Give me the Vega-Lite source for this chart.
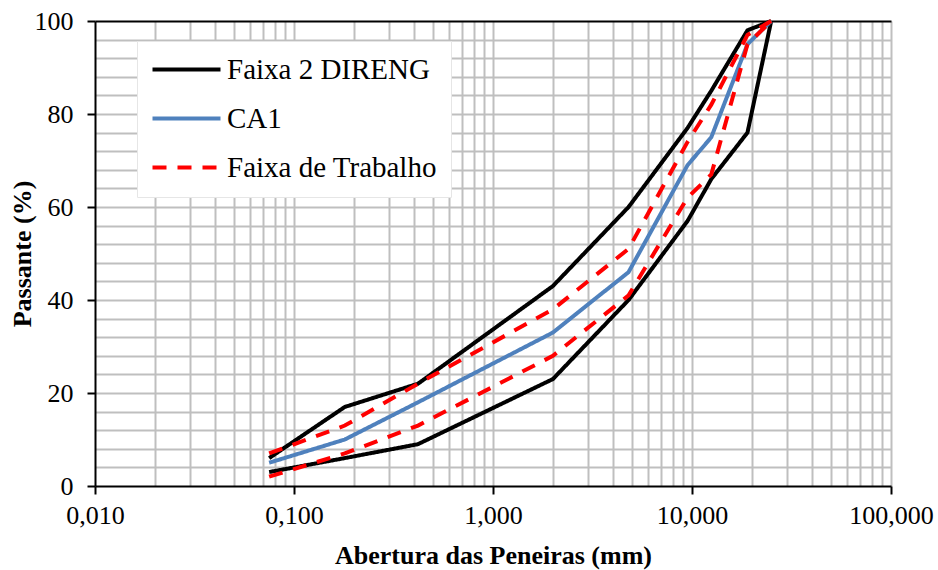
{
  "$schema": "https://vega.github.io/schema/vega-lite/v6.json",
  "width": 796,
  "height": 465,
  "autosize": {"type": "none"},
  "padding": {"left": 95, "top": 21, "right": 47, "bottom": 84},
  "background": "white",
  "config": {"font": "Liberation Serif", "view": {"stroke": null}},
  "data": {
    "values": [
      {"abertura": 0.075, "passante": 6, "serie": "Faixa 2 DIRENG", "linha": "DIRENG sup"},
      {"abertura": 0.18, "passante": 17, "serie": "Faixa 2 DIRENG", "linha": "DIRENG sup"},
      {"abertura": 0.42, "passante": 22, "serie": "Faixa 2 DIRENG", "linha": "DIRENG sup"},
      {"abertura": 2.0, "passante": 43, "serie": "Faixa 2 DIRENG", "linha": "DIRENG sup"},
      {"abertura": 4.8, "passante": 60, "serie": "Faixa 2 DIRENG", "linha": "DIRENG sup"},
      {"abertura": 9.5, "passante": 77, "serie": "Faixa 2 DIRENG", "linha": "DIRENG sup"},
      {"abertura": 12.5, "passante": 85, "serie": "Faixa 2 DIRENG", "linha": "DIRENG sup"},
      {"abertura": 19.0, "passante": 98, "serie": "Faixa 2 DIRENG", "linha": "DIRENG sup"},
      {"abertura": 25.0, "passante": 100, "serie": "Faixa 2 DIRENG", "linha": "DIRENG sup"},
      {"abertura": 0.075, "passante": 3, "serie": "Faixa 2 DIRENG", "linha": "DIRENG inf"},
      {"abertura": 0.18, "passante": 6, "serie": "Faixa 2 DIRENG", "linha": "DIRENG inf"},
      {"abertura": 0.42, "passante": 9, "serie": "Faixa 2 DIRENG", "linha": "DIRENG inf"},
      {"abertura": 2.0, "passante": 23, "serie": "Faixa 2 DIRENG", "linha": "DIRENG inf"},
      {"abertura": 4.8, "passante": 40, "serie": "Faixa 2 DIRENG", "linha": "DIRENG inf"},
      {"abertura": 9.5, "passante": 57, "serie": "Faixa 2 DIRENG", "linha": "DIRENG inf"},
      {"abertura": 12.5, "passante": 66, "serie": "Faixa 2 DIRENG", "linha": "DIRENG inf"},
      {"abertura": 19.0, "passante": 76, "serie": "Faixa 2 DIRENG", "linha": "DIRENG inf"},
      {"abertura": 25.0, "passante": 100, "serie": "Faixa 2 DIRENG", "linha": "DIRENG inf"},
      {"abertura": 0.075, "passante": 5, "serie": "CA1", "linha": "CA1"},
      {"abertura": 0.18, "passante": 10, "serie": "CA1", "linha": "CA1"},
      {"abertura": 0.42, "passante": 18, "serie": "CA1", "linha": "CA1"},
      {"abertura": 2.0, "passante": 33, "serie": "CA1", "linha": "CA1"},
      {"abertura": 4.8, "passante": 46, "serie": "CA1", "linha": "CA1"},
      {"abertura": 9.5, "passante": 69, "serie": "CA1", "linha": "CA1"},
      {"abertura": 12.5, "passante": 75, "serie": "CA1", "linha": "CA1"},
      {"abertura": 19.0, "passante": 95, "serie": "CA1", "linha": "CA1"},
      {"abertura": 25.0, "passante": 100, "serie": "CA1", "linha": "CA1"},
      {"abertura": 0.075, "passante": 7, "serie": "Faixa de Trabalho", "linha": "Trabalho sup"},
      {"abertura": 0.18, "passante": 13, "serie": "Faixa de Trabalho", "linha": "Trabalho sup"},
      {"abertura": 0.42, "passante": 22, "serie": "Faixa de Trabalho", "linha": "Trabalho sup"},
      {"abertura": 2.0, "passante": 38, "serie": "Faixa de Trabalho", "linha": "Trabalho sup"},
      {"abertura": 4.8, "passante": 51, "serie": "Faixa de Trabalho", "linha": "Trabalho sup"},
      {"abertura": 9.5, "passante": 74, "serie": "Faixa de Trabalho", "linha": "Trabalho sup"},
      {"abertura": 12.5, "passante": 82, "serie": "Faixa de Trabalho", "linha": "Trabalho sup"},
      {"abertura": 19.0, "passante": 97, "serie": "Faixa de Trabalho", "linha": "Trabalho sup"},
      {"abertura": 25.0, "passante": 100, "serie": "Faixa de Trabalho", "linha": "Trabalho sup"},
      {"abertura": 0.075, "passante": 2, "serie": "Faixa de Trabalho", "linha": "Trabalho inf"},
      {"abertura": 0.18, "passante": 7, "serie": "Faixa de Trabalho", "linha": "Trabalho inf"},
      {"abertura": 0.42, "passante": 13, "serie": "Faixa de Trabalho", "linha": "Trabalho inf"},
      {"abertura": 2.0, "passante": 28, "serie": "Faixa de Trabalho", "linha": "Trabalho inf"},
      {"abertura": 4.8, "passante": 41, "serie": "Faixa de Trabalho", "linha": "Trabalho inf"},
      {"abertura": 9.5, "passante": 62, "serie": "Faixa de Trabalho", "linha": "Trabalho inf"},
      {"abertura": 12.5, "passante": 67, "serie": "Faixa de Trabalho", "linha": "Trabalho inf"},
      {"abertura": 19.0, "passante": 95, "serie": "Faixa de Trabalho", "linha": "Trabalho inf"},
      {"abertura": 25.0, "passante": 100, "serie": "Faixa de Trabalho", "linha": "Trabalho inf"}
    ]
  },
  "mark": {"type": "line", "strokeWidth": 4, "strokeJoin": "miter", "strokeCap": "butt"},
  "encoding": {
    "x": {
      "field": "abertura",
      "type": "quantitative",
      "scale": {"type": "log", "domain": [0.01, 100], "nice": false},
      "axis": {
        "title": "Abertura das Peneiras (mm)",
        "titleFontSize": 26,
        "titleFontWeight": "bold",
        "titleColor": "black",
        "titleBaseline": "alphabetic",
        "titleY": 77,
        "values": [0.01, 0.02, 0.03, 0.04, 0.05, 0.06, 0.07, 0.08, 0.09,
                   0.1, 0.2, 0.3, 0.4, 0.5, 0.6, 0.7, 0.8, 0.9,
                   1, 2, 3, 4, 5, 6, 7, 8, 9,
                   10, 20, 30, 40, 50, 60, 70, 80, 90, 100],
        "labelExpr": "indexof([0.01, 0.1, 1, 10, 100], datum.value) >= 0 ? replace(format(datum.value, '.3f'), '.', ',') : ''",
        "labelFontSize": 26,
        "labelColor": "black",
        "labelPadding": 8,
        "labelFlush": false,
        "labelOverlap": false,
        "labelBound": false,
        "domainColor": "black",
        "domainWidth": 2,
        "tickColor": "black",
        "tickWidth": 2,
        "tickSize": 8,
        "tickOpacity": {"condition": {"test": "indexof([0.01, 0.1, 1, 10, 100], datum.value) >= 0", "value": 1}, "value": 0},
        "grid": true,
        "gridColor": "#bfbfbf",
        "gridWidth": 2,
        "gridOpacity": {"condition": {"test": "datum.value == 0.01", "value": 0}, "value": 1}
      }
    },
    "y": {
      "field": "passante",
      "type": "quantitative",
      "scale": {"domain": [0, 100], "nice": false},
      "axis": {
        "title": "Passante (%)",
        "titleFontSize": 26,
        "titleFontWeight": "bold",
        "titleColor": "black",
        "titleAngle": -90,
        "titleAlign": "center",
        "titleBaseline": "alphabetic",
        "titleX": -65,
        "titleY": 232.5,
        "values": [0, 4, 8, 12, 16, 20, 24, 28, 32, 36, 40, 44, 48, 52, 56, 60, 64, 68, 72, 76, 80, 84, 88, 92, 96, 100],
        "labelExpr": "datum.value % 20 == 0 ? datum.label : ''",
        "labelFontSize": 26,
        "labelColor": "black",
        "labelPadding": 14,
        "labelOverlap": false,
        "labelBound": false,
        "labelFlush": false,
        "domainColor": "black",
        "domainWidth": 2,
        "tickColor": "black",
        "tickWidth": 2,
        "tickSize": 8,
        "tickOpacity": {"condition": {"test": "datum.value % 20 == 0", "value": 1}, "value": 0},
        "grid": true,
        "gridColor": {"condition": {"test": "datum.value == 100", "value": "black"}, "value": "#bfbfbf"},
        "gridWidth": 2,
        "gridOpacity": {"condition": {"test": "datum.value == 0", "value": 0}, "value": 1}
      }
    },
    "color": {
      "field": "serie",
      "type": "nominal",
      "scale": {"domain": ["Faixa 2 DIRENG", "CA1", "Faixa de Trabalho"], "range": ["#000000", "#4f81bd", "#ff0000"]},
      "legend": {
        "title": null,
        "orient": "none",
        "legendX": 42,
        "legendY": 20,
        "padding": 14,
        "fillColor": "white",
        "strokeColor": "#e6e6e6",
        "symbolType": "M-1.3,0H5.5",
        "symbolSize": 400,
        "symbolStrokeWidth": 4,
        "labelFont": "Liberation Serif",
        "labelFontSize": 29,
        "labelColor": "black",
        "labelOffset": 47,
        "labelLimit": 0,
        "rowPadding": 19
      }
    },
    "strokeDash": {
      "field": "serie",
      "type": "nominal",
      "scale": {"domain": ["Faixa 2 DIRENG", "CA1", "Faixa de Trabalho"], "range": [[1, 0], [1, 0], [14, 11]]},
      "legend": null
    },
    "detail": {"field": "linha", "type": "nominal"}
  }
}
